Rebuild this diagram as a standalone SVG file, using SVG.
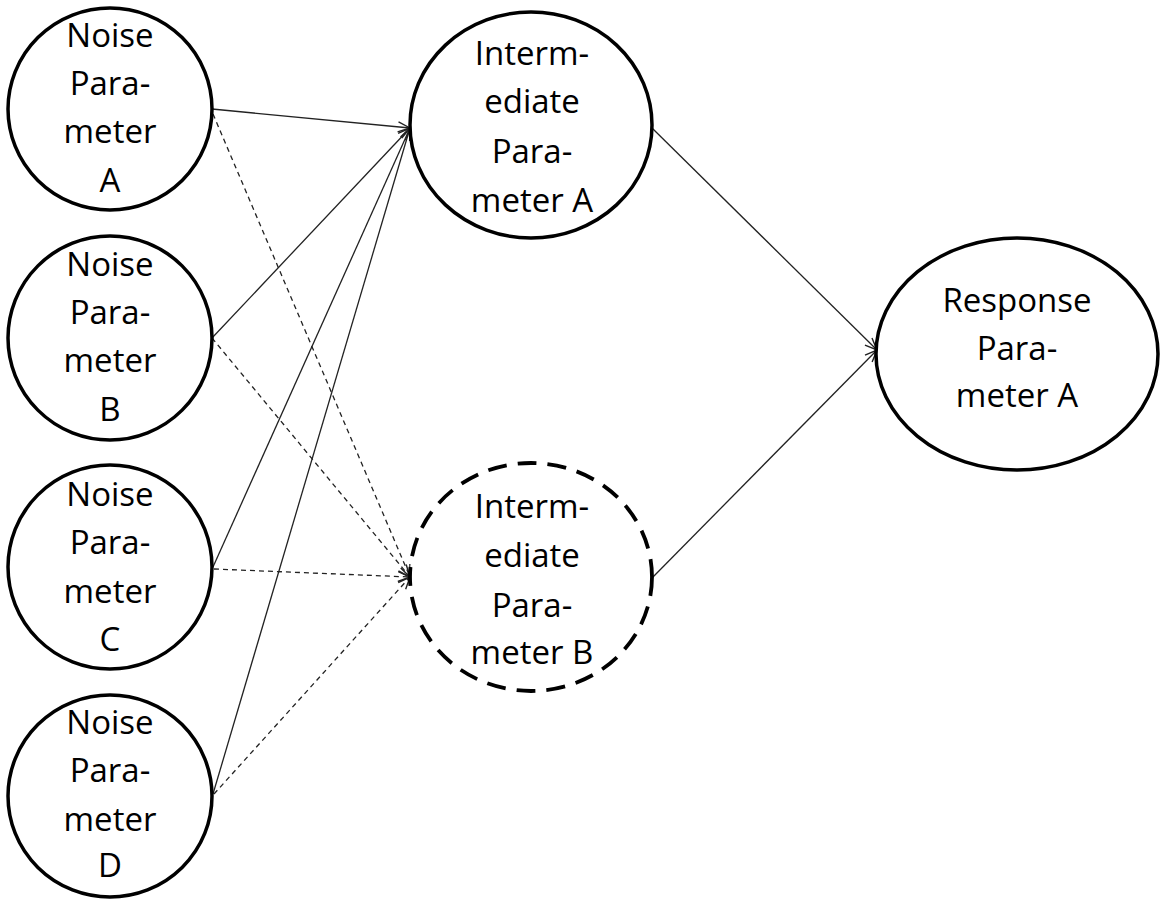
<svg xmlns="http://www.w3.org/2000/svg" width="1163" height="899" viewBox="0 0 1163 899">
<style>
.node{fill:#fff;stroke:#000;stroke-width:3.5}
.dnode{fill:#fff;stroke:#000;stroke-width:3.8;stroke-dasharray:19 11}
.t{font-family:"Open Sans","Liberation Sans",sans-serif;font-size:33px;fill:#000;text-anchor:middle}
.c{stroke:#222;stroke-width:1.3;fill:none}
.d{stroke:#222;stroke-width:1.3;fill:none;stroke-dasharray:5 4}
</style>
<defs>
<marker id="arr" markerUnits="userSpaceOnUse" markerWidth="16" markerHeight="14" refX="13" refY="6" orient="auto" overflow="visible">
<path d="M1,1 L13,6 L1,11" fill="none" stroke="#222" stroke-width="1.4"/>
</marker>
</defs>
<g id="connectors">
<line class="c" x1="212" y1="109" x2="410" y2="128" marker-end="url(#arr)"/>
<line class="d" x1="213" y1="114" x2="410" y2="577" marker-end="url(#arr)"/>
<line class="c" x1="212" y1="338" x2="410" y2="128" marker-end="url(#arr)"/>
<line class="d" x1="212" y1="338" x2="410" y2="577" marker-end="url(#arr)"/>
<line class="c" x1="213" y1="567" x2="410" y2="128" marker-end="url(#arr)"/>
<line class="d" x1="214" y1="569" x2="410" y2="577" marker-end="url(#arr)"/>
<line class="c" x1="213" y1="794" x2="410" y2="128" marker-end="url(#arr)"/>
<line class="d" x1="214" y1="794" x2="410" y2="577" marker-end="url(#arr)"/>
<line class="c" x1="652" y1="128" x2="877" y2="350" marker-end="url(#arr)"/>
<line class="c" x1="652" y1="578" x2="877" y2="350" marker-end="url(#arr)"/>
</g>
<g id="noiseA">
<ellipse class="node" cx="110" cy="109" rx="102" ry="101"/>
<text class="t" x="110" y="47">Noise</text>
<text class="t" x="110" y="95">Para-</text>
<text class="t" x="110" y="143">meter</text>
<text class="t" x="110" y="192">A</text>
</g>
<g id="noiseB">
<ellipse class="node" cx="110" cy="338" rx="102" ry="102"/>
<text class="t" x="110" y="276">Noise</text>
<text class="t" x="110" y="324">Para-</text>
<text class="t" x="110" y="372">meter</text>
<text class="t" x="110" y="421">B</text>
</g>
<g id="noiseC">
<ellipse class="node" cx="110" cy="567" rx="102" ry="102"/>
<text class="t" x="110" y="506">Noise</text>
<text class="t" x="110" y="554">Para-</text>
<text class="t" x="110" y="603">meter</text>
<text class="t" x="110" y="651">C</text>
</g>
<g id="noiseD">
<ellipse class="node" cx="110" cy="796" rx="102" ry="101"/>
<text class="t" x="110" y="734">Noise</text>
<text class="t" x="110" y="782">Para-</text>
<text class="t" x="110" y="831">meter</text>
<text class="t" x="110" y="877">D</text>
</g>
<g id="intermediateA">
<ellipse class="node" cx="531" cy="125" rx="121" ry="113"/>
<text class="t" x="532" y="65">Interm-</text>
<text class="t" x="532" y="113">ediate</text>
<text class="t" x="532" y="163">Para-</text>
<text class="t" x="532" y="212">meter A</text>
</g>
<g id="intermediateB">
<ellipse class="dnode" cx="531" cy="577" rx="121" ry="114"/>
<text class="t" x="532" y="518">Interm-</text>
<text class="t" x="532" y="567">ediate</text>
<text class="t" x="532" y="617">Para-</text>
<text class="t" x="532" y="664">meter B</text>
</g>
<g id="responseA">
<ellipse class="node" cx="1017" cy="354" rx="141" ry="116"/>
<text class="t" x="1017" y="312">Response</text>
<text class="t" x="1017" y="360">Para-</text>
<text class="t" x="1017" y="407">meter A</text>
</g>
</svg>
